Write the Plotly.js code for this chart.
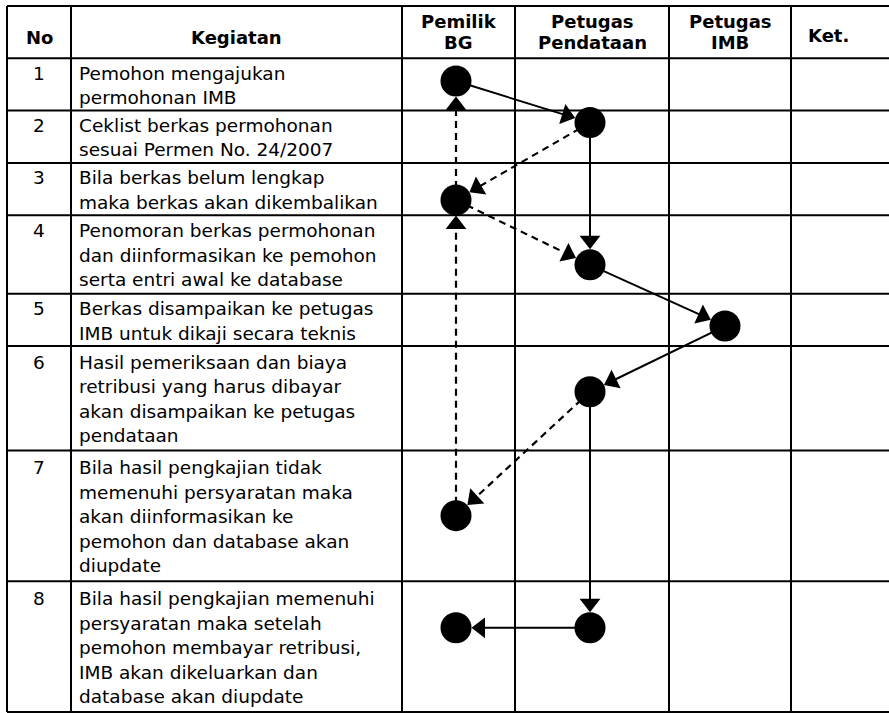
<!DOCTYPE html>
<html><head><meta charset="utf-8">
<script src="https://cdn.plot.ly/plotly-3.0.1.min.js"></script>
<style>html,body{margin:0;padding:0;background:#fff;} #chart{width:889px;height:713px;}</style>
</head><body><div id="chart"></div>
<script>
// ---------------- data ----------------
const headerLabels = ["No", "Kegiatan", "Pemilik<br>BG", "Petugas<br>Pendataan", "Petugas<br>IMB", "Ket."];
const stepNumbers = ["1", "2", "3", "4", "5", "6", "7", "8"];
const activities = [
  "Pemohon mengajukan<br>permohonan IMB",
  "Ceklist berkas permohonan<br>sesuai Permen No. 24/2007",
  "Bila berkas belum lengkap<br>maka berkas akan dikembalikan",
  "Penomoran berkas permohonan<br>dan diinformasikan ke pemohon<br>serta entri awal ke database",
  "Berkas disampaikan ke petugas<br>IMB untuk dikaji secara teknis",
  "Hasil pemeriksaan dan biaya<br>retribusi yang harus dibayar<br>akan disampaikan ke petugas<br>pendataan",
  "Bila hasil pengkajian tidak<br>memenuhi persyaratan maka<br>akan diinformasikan ke<br>pemohon dan database akan<br>diupdate",
  "Bila hasil pengkajian memenuhi<br>persyaratan maka setelah<br>pemohon membayar retribusi,<br>IMB akan dikeluarkan dan<br>database akan diupdate"
];
const lanes = ["Pemilik BG", "Petugas Pendataan", "Petugas IMB"];
// flow nodes: step, lane, vertical level (in text-line units from table top)
const nodeStep  = [1, 2, 3, 4, 5, 6, 7, 8, 8];
const nodeLane  = ["Pemilik BG", "Petugas Pendataan", "Pemilik BG", "Petugas Pendataan", "Petugas IMB",
                   "Petugas Pendataan", "Pemilik BG", "Petugas Pendataan", "Pemilik BG"];
const nodeLevel = [2.87, 4.46, 7.42, 9.90, 12.24, 14.75, 19.49, 23.78, 23.78];
// flow arrows
const edgeFrom  = [0, 1, 2, 2, 1, 3, 4, 5, 6, 5, 7];
const edgeTo    = [1, 2, 0, 3, 3, 4, 5, 6, 2, 7, 8];
const edgeKind  = ["solid", "dash", "dash", "dash", "solid", "solid", "solid", "dash", "dash", "solid", "solid"];

// ---------------- layout config ----------------
const W = 889, H = 713;
const tableTop = 6, tableBottom = 712;
const colEdges = [7, 71, 402, 515, 669, 791, 910];
const ketLabelX = 828;
const laneX = {"Pemilik BG": 456, "Petugas Pendataan": 590, "Petugas IMB": 725};
const headerUnits = 2;
const textLeft = 77;
const FONT = "DejaVu Sans";
const bodySize = 18.5, headSize = 18;
const linePitchPx = 24.5, textShiftPx = 1;
const nodeSize = 31, headSizePx = 18;

const rowLines = activities.map(a => a.split("<br>").length);
const totalUnits = headerUnits + rowLines.reduce((a, b) => a + b, 0);
const unit = (tableBottom - tableTop) / totalUnits;
const yRange = [totalUnits + (H - tableBottom) / unit, -tableTop / unit];
const px2u = p => (p - tableTop) / unit;

const rowTops = [];
let acc = headerUnits;
rowLines.forEach(n => { rowTops.push(acc); acc += n; });
const hLines = [0, headerUnits].concat(rowTops.slice(1), [totalUnits]);

const shapes = [];
hLines.forEach(y => shapes.push({type: "line", xref: "x", yref: "y", x0: colEdges[0], x1: colEdges[colEdges.length - 1],
  y0: y, y1: y, line: {color: "black", width: 2}}));
colEdges.forEach(x => shapes.push({type: "line", xref: "x", yref: "y", x0: x, x1: x, y0: 0, y1: totalUnits,
  line: {color: "black", width: 2}}));

const annotations = [];
function addText(txt, x, y, anchor, font) {
  annotations.push({text: txt, x: x, y: y, xref: "x", yref: "y", xanchor: anchor, yanchor: "middle",
    showarrow: false, font: font, align: anchor === "left" ? "left" : "center"});
}
const headFont = {family: FONT, size: headSize, color: "black", weight: "bold"};
const bodyFont = {family: FONT, size: bodySize, color: "black"};
headerLabels.forEach((lab, i) => {
  const parts = lab.split("<br>");
  const last = i === headerLabels.length - 1;
  const cx = last ? ketLabelX : (colEdges[i] + colEdges[i + 1]) / 2;
  if (parts.length === 1) addText("<b>" + parts[0] + "</b>", cx, px2u(last ? 35 : 37), "center", headFont);
  else parts.forEach((p, k) => addText("<b>" + p + "</b>", cx, px2u(21 + 21 * k), "center", headFont));
});
const pitchU = linePitchPx / unit, shiftU = textShiftPx / unit;
activities.forEach((a, r) => {
  const parts = a.split("<br>");
  const n = parts.length;
  const c = rowTops[r] + n / 2 + shiftU;
  const ys = parts.map((p, k) => c + (k - (n - 1) / 2) * pitchU);
  addText(stepNumbers[r], (colEdges[0] + colEdges[1]) / 2, ys[0], "center", bodyFont);
  parts.forEach((p, k) => addText(p, textLeft, ys[k], "left", bodyFont));
});

// ---------------- traces ----------------
const traces = [];
edgeFrom.forEach((f, i) => {
  const t = edgeTo[i];
  const dashed = edgeKind[i] === "dash";
  traces.push({
    type: "scatter", mode: "lines+markers", hoverinfo: "skip", showlegend: false,
    x: [laneX[nodeLane[f]], laneX[nodeLane[t]]],
    y: [nodeLevel[f], nodeLevel[t]],
    line: {color: "#000", width: dashed ? 2.2 : 2, dash: dashed ? "7px,5px" : "solid"},
    marker: {symbol: "triangle-up", size: [0, headSizePx], angleref: "previous",
             standoff: nodeSize / 2 + headSizePx / 2, color: "#000", opacity: 1, line: {width: 0}}
  });
});
traces.push({
  type: "scatter", mode: "markers", hoverinfo: "skip", showlegend: false,
  x: nodeLane.map(l => laneX[l]), y: nodeLevel,
  text: nodeStep.map(String),
  marker: {symbol: "circle", size: nodeSize, color: "#000", line: {width: 0}}
});

const layout = {
  width: W, height: H, margin: {l: 0, r: 0, t: 0, b: 0},
  paper_bgcolor: "white", plot_bgcolor: "white", showlegend: false,
  xaxis: {range: [0, W], visible: false, fixedrange: true},
  yaxis: {range: yRange, visible: false, fixedrange: true},
  shapes: shapes, annotations: annotations
};
Plotly.newPlot("chart", traces, layout, {staticPlot: true, displayModeBar: false});
</script>
</body></html>
